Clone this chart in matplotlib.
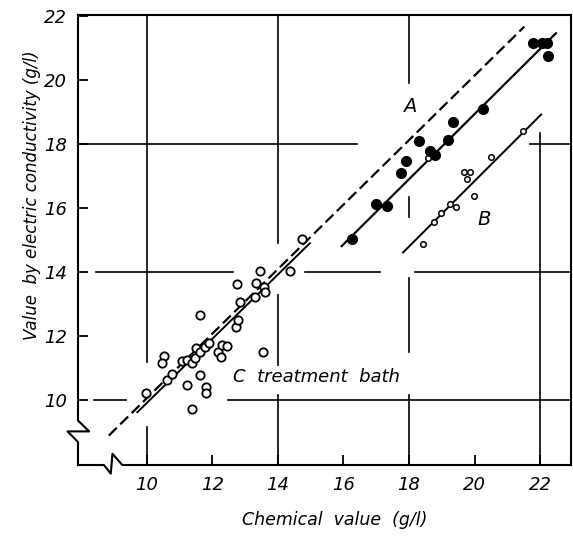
import matplotlib
matplotlib.use("Agg")
from matplotlib import pyplot as plt

# chemical value vs. conductivity reading, three baths
a_x = [16.27, 16.99, 17.33, 17.75, 17.92, 18.30, 18.63, 18.80, 19.19, 19.34, 20.25, 21.77, 22.07, 22.22, 22.23]
a_y = [15.04, 16.11, 16.06, 17.10, 17.46, 18.08, 17.77, 17.65, 18.12, 18.68, 19.09, 21.15, 21.15, 21.15, 20.75]

b_x = [18.43, 18.58, 18.75, 18.99, 19.26, 19.44, 19.67, 19.85, 19.78, 19.98, 20.49, 21.49]
b_y = [14.87, 17.55, 15.56, 15.85, 16.11, 16.04, 17.13, 17.12, 16.91, 16.37, 17.60, 18.40]

c_x = [9.97, 10.53, 10.48, 10.61, 10.78, 11.09, 11.24, 11.39, 11.49, 11.51, 11.64, 11.64,
       11.79, 11.91, 11.62, 11.24, 11.82, 11.82, 11.39, 12.17, 12.27, 12.30, 12.45, 12.74,
       12.78, 12.84, 12.76, 13.31, 13.34, 13.47, 13.57, 13.62, 13.55, 14.38, 14.73]
c_y = [10.23, 11.37, 11.16, 10.62, 10.81, 11.22, 11.25, 11.16, 11.31, 11.63, 11.51, 12.66,
       11.66, 11.78, 10.78, 10.47, 10.41, 10.23, 9.72, 11.49, 11.33, 11.72, 11.68, 12.27,
       12.51, 13.07, 13.62, 13.22, 13.65, 14.03, 13.52, 13.38, 11.49, 14.03, 15.04]

# fitted lines (end points) and the 1:1 reference line
ref_x, ref_y = [8.85, 21.52], [8.89, 21.67]
fit_a_x, fit_a_y = [15.95, 22.48], [14.81, 21.46]
fit_b_x, fit_b_y = [17.82, 22.03], [14.61, 18.92]
fit_c_x, fit_c_y = [9.72, 14.98], [9.62, 14.90]

x_ticks = [10, 12, 14, 16, 18, 20, 22]
y_ticks = [10, 12, 14, 16, 18, 20, 22]

x_lo, x_hi = 7.91, 22.94
y_lo, y_hi = 7.97, 22.03

fig = plt.figure(figsize=(5.73, 5.39), dpi=100)
ax = fig.add_axes([78 / 573, 1 - 465 / 539, 493 / 573, 450 / 539])
ax.set_xlim(x_lo, x_hi)
ax.set_ylim(y_lo, y_hi)

for side in ("left", "bottom"):
    ax.spines[side].set_visible(False)
for side in ("top", "right"):
    ax.spines[side].set_linewidth(1.5)

# broken grid lines, interrupted around the data and labels
grid_v = [
    (10, [(11.19, y_hi), (y_lo, 9.16)]),
    (14, [(14.91, y_hi), (11.09, 13.28), (y_lo, 10.16)]),
    (18, [(19.91, y_hi), (15.72, 16.34), (11.50, 13.81), (y_lo, 10.16)]),
    (22, [(y_lo, 18.34)]),
]
grid_h = [
    (18, [(x_lo, 16.43), (21.70, x_hi)]),
    (14, [(8.45, 12.65), (14.84, 17.13), (18.19, x_hi)]),
    (10, [(8.39, 9.36), (12.47, x_hi)]),
]
for gx, spans in grid_v:
    for y0, y1 in spans:
        ax.plot([gx, gx], [y0, y1], color="black", lw=1.2, zorder=1)
for gy, spans in grid_h:
    for x0, x1 in spans:
        ax.plot([x0, x1], [gy, gy], color="black", lw=1.2, zorder=1)

# left and bottom axes with break marks
ax.plot([x_lo, x_lo, 8.25, 7.59, x_lo, x_lo],
        [y_hi, 9.36, 9.02, 9.02, 8.69, y_lo],
        color="black", lw=1.5, clip_on=False, zorder=3)
ax.plot([x_lo, 8.70, 8.91, 8.96, 9.26, x_hi],
        [y_lo, y_lo, 7.70, 8.32, y_lo, y_lo],
        color="black", lw=1.5, clip_on=False, zorder=3)

ax.plot(ref_x, ref_y, color="black", lw=1.6, dashes=(5, 2.2), zorder=2)
ax.plot(fit_a_x, fit_a_y, color="black", lw=1.6, zorder=2)
ax.plot(fit_b_x, fit_b_y, color="black", lw=1.4, zorder=2)
ax.plot(fit_c_x, fit_c_y, color="black", lw=1.4, zorder=2)

ax.plot(c_x, c_y, "o", ms=6, mfc="white", mec="black", mew=1.3, zorder=4)
ax.plot(b_x, b_y, "o", ms=4, mfc="white", mec="black", mew=1.1, zorder=4)
ax.plot(a_x, a_y, "o", ms=7, mfc="black", mec="black", zorder=4)

ax.text(18.02, 19.18, "A", fontsize=14, style="italic", ha="center", va="center")
ax.text(20.30, 15.64, "B", fontsize=14, style="italic", ha="center", va="center")
ax.text(15.17, 10.72, "C  treatment  bath", fontsize=13, style="italic",
        ha="center", va="center")

ax.set_xticks(x_ticks)
ax.set_yticks(y_ticks)
ax.tick_params(direction="in", length=7, width=1.3, labelsize=13, pad=8)
for lab in ax.get_xticklabels() + ax.get_yticklabels():
    lab.set_style("italic")

fig.text(335 / 573, 1 - 520 / 539, "Chemical  value  (g/l)", fontsize=12.5,
         style="italic", ha="center", va="center")
fig.text(32 / 573, 1 - 195 / 539, "Value  by electric conductivity (g/l)", fontsize=12,
         style="italic", rotation=90, ha="center", va="center")

fig.savefig("out.png", dpi=100)
